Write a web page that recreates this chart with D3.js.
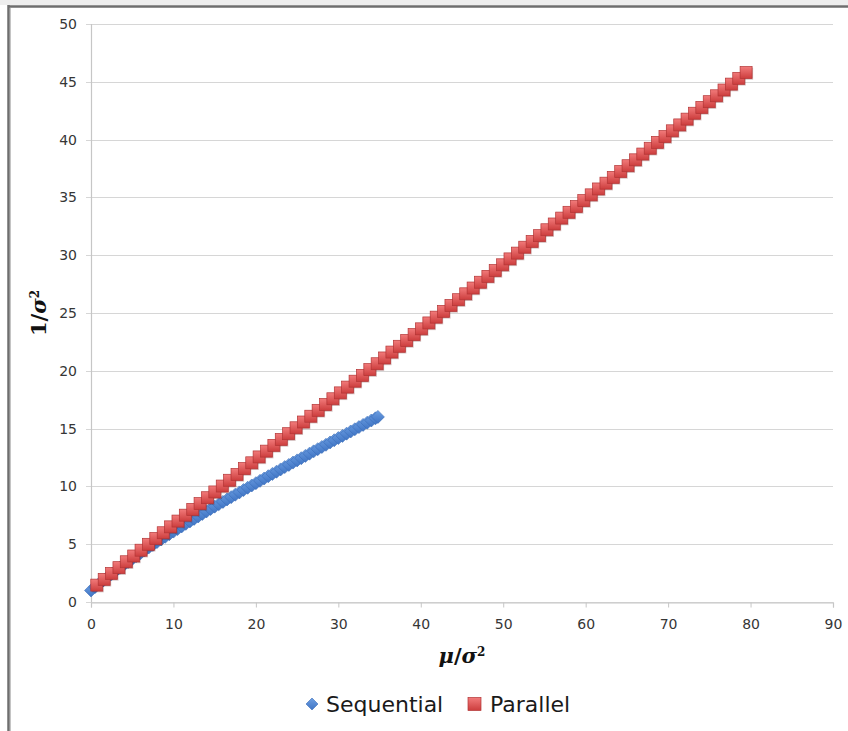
<!DOCTYPE html>
<html>
<head>
<meta charset="utf-8">
<script src="https://cdn.jsdelivr.net/npm/d3@7"></script>
<style>
  body { margin: 0; background: #fff; }
  svg { display: block; }
  .tick text { font-family: "DejaVu Sans", sans-serif; font-size: 14px; fill: #363636; }
</style>
</head>
<body>
<div id="chart"></div>
<script>
// ... data

const xTicks = [0, 10, 20, 30, 40, 50, 60, 70, 80, 90];
const yTicks = [0, 5, 10, 15, 20, 25, 30, 35, 40, 45, 50];

const seqX = [0, 0.5, 1, 1.5, 2, 2.5, 3, 3.5, 4, 4.5, 5, 5.5, 6, 6.5, 7, 7.5, 8, 8.5, 9, 9.5,
    10, 10.5, 11, 11.5, 12, 12.5, 13, 13.5, 14, 14.5, 15, 15.5, 16, 16.5, 17, 17.5, 18, 18.5, 19, 19.5,
    20, 20.5, 21, 21.5, 22, 22.5, 23, 23.5, 24, 24.5, 25, 25.5, 26, 26.5, 27, 27.5, 28, 28.5, 29, 29.5,
    30, 30.5, 31, 31.5, 32, 32.5, 33, 33.5, 34, 34.5, 34.8];
const seqY = [1.00, 1.30, 1.59, 1.87, 2.15, 2.42, 2.69, 2.96, 3.22, 3.47, 3.73, 3.98, 4.22, 4.47, 4.71, 4.94, 5.18, 5.41, 5.64, 5.87,
    6.09, 6.31, 6.54, 6.76, 6.97, 7.19, 7.40, 7.62, 7.83, 8.04, 8.25, 8.46, 8.66, 8.87, 9.07, 9.28, 9.48, 9.68, 9.88, 10.08,
    10.28, 10.48, 10.68, 10.88, 11.08, 11.27, 11.47, 11.67, 11.86, 12.06, 12.25, 12.44, 12.64, 12.83, 13.03, 13.22, 13.41, 13.60, 13.80, 13.99,
    14.18, 14.37, 14.56, 14.75, 14.94, 15.13, 15.32, 15.51, 15.70, 15.89, 16.01];

const parX = [0.70, 1.60, 2.49, 3.39, 4.28, 5.18, 6.07, 6.97, 7.86, 8.76,
    9.65, 10.55, 11.44, 12.34, 13.23, 14.13, 15.02, 15.92, 16.81, 17.71,
    18.60, 19.50, 20.39, 21.29, 22.18, 23.08, 23.97, 24.87, 25.76, 26.66,
    27.55, 28.45, 29.34, 30.24, 31.13, 32.03, 32.92, 33.82, 34.71, 35.61,
    36.50, 37.40, 38.29, 39.19, 40.08, 40.98, 41.87, 42.77, 43.66, 44.56,
    45.45, 46.35, 47.24, 48.14, 49.03, 49.93, 50.82, 51.72, 52.61, 53.51,
    54.40, 55.30, 56.19, 57.09, 57.98, 58.88, 59.77, 60.67, 61.56, 62.46,
    63.35, 64.25, 65.14, 66.04, 66.93, 67.83, 68.72, 69.62, 70.51, 71.41,
    72.30, 73.20, 74.09, 74.99, 75.88, 76.78, 77.67, 78.57, 79.46];
const parY = [1.46, 1.96, 2.47, 2.97, 3.48, 3.98, 4.48, 4.99, 5.49, 5.99,
    6.50, 7.00, 7.51, 8.01, 8.51, 9.02, 9.52, 10.03, 10.53, 11.03,
    11.54, 12.04, 12.55, 13.05, 13.55, 14.06, 14.56, 15.07, 15.57, 16.07,
    16.58, 17.08, 17.58, 18.09, 18.59, 19.10, 19.60, 20.10, 20.61, 21.11,
    21.62, 22.12, 22.62, 23.13, 23.63, 24.14, 24.64, 25.14, 25.65, 26.15,
    26.66, 27.16, 27.66, 28.17, 28.67, 29.17, 29.68, 30.18, 30.69, 31.19,
    31.69, 32.20, 32.70, 33.21, 33.71, 34.21, 34.72, 35.22, 35.73, 36.23,
    36.73, 37.24, 37.74, 38.25, 38.75, 39.25, 39.76, 40.26, 40.76, 41.27,
    41.77, 42.28, 42.78, 43.28, 43.79, 44.29, 44.80, 45.30, 45.80];

const seriesNames = ['Sequential', 'Parallel'];

// ... chart area

const W = 848, H = 731;
const margin = {top: 24, right: 15, bottom: 129, left: 91};
const width = W - margin.left - margin.right;
const height = H - margin.top - margin.bottom;

const root = d3.select('#chart').append('svg')
    .attr('width', W)
    .attr('height', H);

const defs = root.append('defs');

const redGrad = defs.append('linearGradient')
    .attr('id', 'redGrad')
    .attr('x1', 0).attr('y1', 0).attr('x2', 0).attr('y2', 1);
redGrad.append('stop').attr('offset', '0%').attr('stop-color', '#f27b7b');
redGrad.append('stop').attr('offset', '100%').attr('stop-color', '#cc3d3d');

const blueGrad = defs.append('linearGradient')
    .attr('id', 'blueGrad')
    .attr('x1', 0).attr('y1', 0).attr('x2', 0).attr('y2', 1);
blueGrad.append('stop').attr('offset', '0%').attr('stop-color', '#6d9fe2');
blueGrad.append('stop').attr('offset', '100%').attr('stop-color', '#3f74c4');

// ... frame of the screenshot

root.append('rect')
    .attr('x', 0).attr('y', 0)
    .attr('width', W).attr('height', 5)
    .attr('fill', '#eeeeee');

root.append('line')
    .attr('x1', 8).attr('x2', W)
    .attr('y1', 6.5).attr('y2', 6.5)
    .attr('stroke', '#6e6e6e')
    .attr('stroke-width', 2.5);

root.append('line')
    .attr('x1', 8.5).attr('x2', 8.5)
    .attr('y1', 5).attr('y2', H)
    .attr('stroke', '#6e6e6e')
    .attr('stroke-width', 2.5);

root.append('line')
    .attr('x1', 10.5).attr('x2', 10.5)
    .attr('y1', 8).attr('y2', H)
    .attr('stroke', '#c4c4c4')
    .attr('stroke-width', 1);

const svg = root.append('g')
    .attr('transform', 'translate(' + margin.left + ',' + margin.top + ')');

const x = d3.scaleLinear()
    .domain([0, 90])
    .range([0, width]);

const y = d3.scaleLinear()
    .domain([0, 50])
    .range([height, 0]);

// ... gridlines

svg.append('g')
    .selectAll('line')
    .data(yTicks)
    .join('line')
    .attr('x1', -5)
    .attr('x2', width)
    .attr('y1', d => Math.round(y(d)) + 0.5)
    .attr('y2', d => Math.round(y(d)) + 0.5)
    .attr('stroke', '#d6d6d6')
    .attr('stroke-width', 1.2);

// ... axes

const xAxis = d3.axisBottom(x)
    .tickValues(xTicks)
    .tickSize(5)
    .tickPadding(12)
    .tickFormat(d3.format('d'));

const yAxis = d3.axisLeft(y)
    .tickValues(yTicks)
    .tickSize(0)
    .tickPadding(14)
    .tickFormat(d3.format('d'));

const gx = svg.append('g')
    .attr('transform', 'translate(0,' + (Math.round(height) + 0.5) + ')')
    .call(xAxis);
gx.select('.domain').attr('stroke', '#c6c6c6').attr('stroke-width', 1.2);
gx.selectAll('.tick line').attr('stroke', '#c6c6c6');

const gy = svg.append('g')
    .call(yAxis);
gy.select('.domain').remove();

svg.append('line')
    .attr('x1', 0.5).attr('x2', 0.5)
    .attr('y1', 0).attr('y2', height)
    .attr('stroke', '#c6c6c6')
    .attr('stroke-width', 1.2);

// ... markers (Sequential first, Parallel drawn on top)

const seqData = seqX.map((d, i) => ({x: d, y: seqY[i]}));
const parData = parX.map((d, i) => ({x: d, y: parY[i]}));

const diamond = 'M0,-6.5L6.5,0L0,6.5L-6.5,0Z';

svg.append('g')
    .selectAll('path')
    .data(seqData)
    .join('path')
    .attr('d', diamond)
    .attr('transform', d => 'translate(' + x(d.x) + ',' + y(d.y) + ')')
    .attr('fill', 'url(#blueGrad)')
    .attr('stroke', '#3b6db8')
    .attr('stroke-width', 0.6);

const sq = 12;

const par = svg.append('g');

par.selectAll('rect.shadow')
    .data(parData)
    .join('rect')
    .attr('class', 'shadow')
    .attr('x', d => x(d.x) - sq / 2 + 1)
    .attr('y', d => y(d.y) - sq / 2 + 1.2)
    .attr('width', sq)
    .attr('height', sq)
    .attr('fill', 'rgba(90,20,20,0.25)');

par.selectAll('rect.mark')
    .data(parData)
    .join('rect')
    .attr('class', 'mark')
    .attr('x', d => x(d.x) - sq / 2)
    .attr('y', d => y(d.y) - sq / 2)
    .attr('width', sq)
    .attr('height', sq)
    .attr('fill', 'url(#redGrad)')
    .attr('stroke', '#b23434')
    .attr('stroke-width', 0.7);

// ... axis titles

const xTitle = svg.append('text')
    .attr('x', 371)
    .attr('y', height + 61)
    .attr('text-anchor', 'middle')
    .style('font-family', '"DejaVu Serif", serif')
    .style('font-weight', 'bold')
    .style('font-size', '21px')
    .style('fill', '#111');
xTitle.append('tspan').style('font-style', 'italic').text('μ');
xTitle.append('tspan').text('/');
xTitle.append('tspan').style('font-style', 'italic').text('σ');
xTitle.append('tspan').style('font-size', '12px').attr('dy', '-7').text('2');

const yTitle = svg.append('text')
    .attr('transform', 'translate(-45,' + (313 - margin.top) + ') rotate(-90)')
    .attr('text-anchor', 'middle')
    .style('font-family', '"DejaVu Serif", serif')
    .style('font-weight', 'bold')
    .style('font-size', '21px')
    .style('fill', '#111');
yTitle.append('tspan').text('1/');
yTitle.append('tspan').style('font-style', 'italic').text('σ');
yTitle.append('tspan').style('font-size', '12px').attr('dy', '-7').text('2');

// ... legend

const legend = root.append('g')
    .attr('transform', 'translate(0,704)');

legend.append('path')
    .attr('d', 'M0,-6L6,0L0,6L-6,0Z')
    .attr('transform', 'translate(312,0)')
    .attr('fill', 'url(#blueGrad)')
    .attr('stroke', '#3b6db8')
    .attr('stroke-width', 0.6);

legend.append('text')
    .attr('x', 326)
    .attr('y', 8)
    .style('font-family', '"DejaVu Sans", sans-serif')
    .style('font-size', '22px')
    .style('fill', '#1a1a1a')
    .text(seriesNames[0]);

legend.append('rect')
    .attr('x', 468)
    .attr('y', -6.5)
    .attr('width', 13)
    .attr('height', 13)
    .attr('fill', 'url(#redGrad)')
    .attr('stroke', '#b23434')
    .attr('stroke-width', 0.7);

legend.append('text')
    .attr('x', 490)
    .attr('y', 8)
    .style('font-family', '"DejaVu Sans", sans-serif')
    .style('font-size', '22px')
    .style('fill', '#1a1a1a')
    .text(seriesNames[1]);
</script>
</body>
</html>
